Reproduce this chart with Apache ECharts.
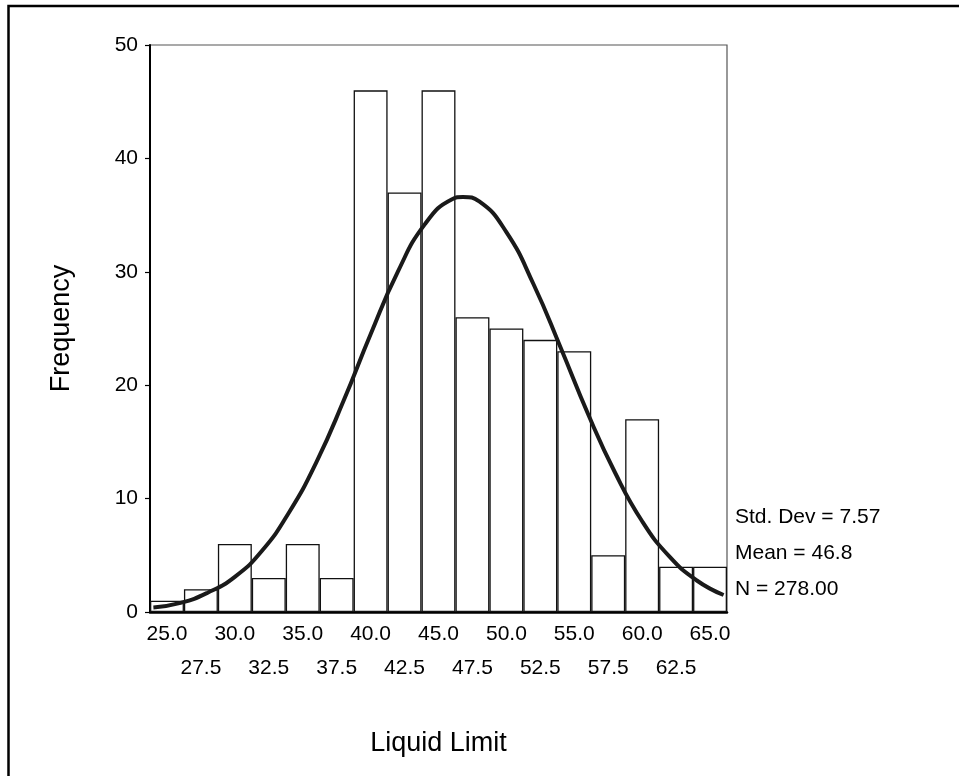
<!doctype html>
<html>
<head>
    <meta charset="utf-8">
    <title>Liquid Limit histogram</title>
    <script src="https://cdn.jsdelivr.net/npm/echarts@6/dist/echarts.min.js"></script>
    <style>
        html,body{margin:0;padding:0;background:#fff;}
        #chart{width:959px;height:776px;}
    </style>
</head>
<body>
    <div id="chart"></div>
    <script>
        // bin centres (bin width 2.5)
        var binLabels = ['25.0','27.5','30.0','32.5','35.0','37.5','40.0','42.5','45.0','47.5','50.0','52.5','55.0','57.5','60.0','62.5','65.0'];
        var frequency = [1, 2, 6, 3, 6, 3, 46, 37, 46, 26, 25, 24, 23, 5, 17, 4, 4];
        // normal curve
        var curveX = [24, 26, 28, 30, 32, 34, 36, 38, 40, 42, 44, 46, 46.8, 48, 50, 52, 54, 56, 58, 60, 62, 64, 66];
        var curveY = [0.4, 0.8, 1.7, 3.1, 5.4, 8.8, 13.2, 18.6, 24.5, 30.0, 34.2, 36.4, 36.6, 36.2, 33.5, 28.9, 23.3, 17.5, 12.3, 8.0, 4.9, 2.8, 1.5];
        var yTicks = [0, 10, 20, 30, 40, 50];
        var stats = ['Std. Dev = 7.57', 'Mean = 46.8', 'N = 278.00'];

        var font = 'Liberation Sans, Arial, sans-serif';
        var chart = echarts.init(document.getElementById('chart'));

        var curveData = [];
        for (var i = 0; i < curveX.length; i++) {
            curveData.push([curveX[i], curveY[i]]);
        }

        var statText = [];
        var statY = [519, 555, 591];
        for (var k = 0; k < stats.length; k++) {
            statText.push({
                type: 'text', left: 735, top: statY[k] - 12,
                style: {text: stats[k], font: '21px ' + font, fill: '#000'}
            });
        }

        var option = {
            animation: false,
            backgroundColor: '#fff',
            grid: {
                left: 150, top: 45, right: 232, bottom: 164,
                show: true, borderColor: '#555', borderWidth: 1.2, backgroundColor: 'transparent'
            },
            xAxis: [{
                type: 'category',
                data: binLabels,
                boundaryGap: true,
                name: 'Liquid Limit',
                nameLocation: 'middle',
                nameGap: 118,
                nameTextStyle: {fontFamily: font, fontSize: 27, color: '#000'},
                axisLine: {lineStyle: {color: '#000', width: 2.5}},
                axisTick: {alignWithLabel: true, length: 6, lineStyle: {color: '#000', width: 1.2}},
                axisLabel: {
                    interval: 0, margin: 5, color: '#000', fontFamily: font, fontSize: 21, lineHeight: 34,
                    formatter: function (v, idx) { return idx % 2 === 0 ? v : '\n' + v; }
                },
                splitLine: {show: false}
            }, {
                type: 'value',
                min: 23.75, max: 66.25,
                show: false
            }],
            yAxis: {
                type: 'value',
                min: yTicks[0], max: yTicks[yTicks.length - 1], interval: 10,
                name: 'Frequency',
                nameLocation: 'middle',
                nameRotate: 90,
                nameGap: 75,
                nameTextStyle: {fontFamily: font, fontSize: 27, color: '#000'},
                axisLine: {show: true, lineStyle: {color: '#000', width: 2}},
                axisTick: {show: true, length: 5, lineStyle: {color: '#000', width: 1.2}},
                axisLabel: {margin: 12, color: '#000', fontFamily: font, fontSize: 21},
                splitLine: {show: false}
            },
            series: [{
                type: 'bar',
                data: frequency,
                barCategoryGap: 0,
                itemStyle: {color: '#fff', borderColor: '#111', borderWidth: 1.3},
                silent: true
            }, {
                type: 'line',
                xAxisIndex: 1,
                data: curveData,
                smooth: true,
                showSymbol: false,
                lineStyle: {color: '#1a1a1a', width: 4},
                silent: true,
                z: 5
            }],
            graphic: [{
                type: 'rect',
                shape: {x: 8.5, y: 6, width: 1200, height: 1200},
                style: {fill: 'none', stroke: '#000', lineWidth: 2.5},
                silent: true
            }].concat(statText)
        };
        chart.setOption(option);
    </script>
</body>
</html>
